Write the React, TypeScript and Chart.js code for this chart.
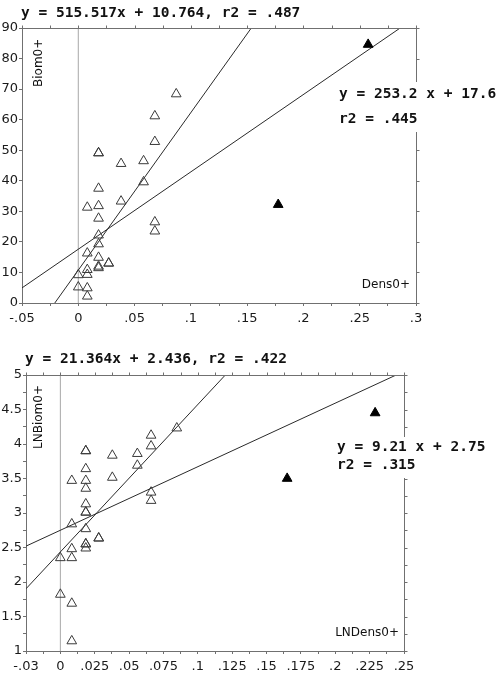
import React, { useEffect, useRef } from "react";
import { Chart, registerables } from "chart.js";

Chart.register(...registerables);

// ---------- Top panel data (Dens0+ vs Biom0+) ----------
const topDens = [
  0.087, 0.068, 0.068, 0.018, 0.018, 0.038, 0.058, 0.058, 0.018, 0.008, 0.018,
  0.038, 0.018, 0.068, 0.068, 0.018, 0.018, 0.008, 0.018, 0.018, 0.018, 0.027,
  0.027, 0.0, 0.008, 0.008, 0.0, 0.008, 0.008,
];
const topBiom = [
  68.4, 61.2, 52.8, 49.1, 49.1, 45.6, 46.5, 39.6, 37.5, 31.3, 31.8,
  33.3, 27.7, 26.5, 23.5, 22.2, 19.3, 16.3, 14.9, 12.0, 11.5, 13.0,
  13.0, 9.2, 10.9, 9.3, 5.2, 4.9, 2.2,
];
const topDensFilled = [0.2575, 0.1776];
const topBiomFilled = [84.6, 32.2];
const topSlopes = [515.517, 253.2];
const topIntercepts = [10.764, 17.6];
const topXLabels = ["-.05", "0", ".05", ".1", ".15", ".2", ".25", ".3"];
const topYLabels = ["0", "10", "20", "30", "40", "50", "60", "70", "80", "90"];
const topTitle = "y = 515.517x + 10.764, r2 = .487";
const topFit2a = "y = 253.2 x + 17.6";
const topFit2b = "r2 = .445";
const topXName = "Dens0+";
const topYName = "Biom0+";

// ---------- Bottom panel data (LNDens0+ vs LNBiom0+) ----------
const botDens = [
  0.0847, 0.066, 0.066, 0.0185, 0.0185, 0.0378, 0.056, 0.056, 0.0185, 0.0083,
  0.0185, 0.0378, 0.0185, 0.066, 0.066, 0.0185, 0.0185, 0.0185, 0.0083, 0.0185,
  0.0279, 0.0279, 0.0185, 0.0185, 0.0185, 0.0083, 0.0, 0.0083, 0.0, 0.0083, 0.0083,
];
const botBiom = [
  4.23, 4.125, 3.97, 3.9, 3.9, 3.835, 3.86, 3.69, 3.64, 3.47,
  3.47, 3.515, 3.356, 3.3, 3.18, 3.13, 3.01, 3.01, 2.84, 2.77,
  2.635, 2.635, 2.55, 2.55, 2.49, 2.48, 2.35, 2.35, 1.82, 1.69, 1.145,
];
const botDensFilled = [0.229, 0.165];
const botBiomFilled = [4.45, 3.5];
const botSlopes = [21.364, 9.21];
const botIntercepts = [2.436, 2.75];
const botXLabels = [
  "-.03", "0", ".025", ".05", ".075", ".1", ".125", ".15", ".175", ".2", ".225", ".25",
];
const botYLabels = ["1", "1.5", "2", "2.5", "3", "3.5", "4", "4.5", "5"];
const botTitle = "y = 21.364x + 2.436, r2 = .422";
const botFit2a = "y = 9.21 x + 2.75";
const botFit2b = "r2 = .315";
const botXName = "LNDens0+";
const botYName = "LNBiom0+";

const AXIS_COLOR = "#707070";
const TICK_FONT = { family: "DejaVu Sans", size: 13 };
const MONO_BOLD = "bold 14.5px 'DejaVu Sans Mono'";
const NAME_FONT = "12px 'DejaVu Sans'";

type TextItem = {
  text: string;
  x: number;
  y: number;
  font: string;
  align?: CanvasTextAlign;
  rotate?: boolean;
};

type PanelSpec = {
  canvasHeight: number;
  xMin: number;
  xMax: number;
  xStep: number;
  xLabelEvery: number;
  xLabels: string[];
  yMin: number;
  yMax: number;
  yStep: number;
  yLabelEvery: number;
  yLabels: string[];
  dens: number[];
  biom: number[];
  densF: number[];
  biomF: number[];
  slopes: number[];
  intercepts: number[];
  leftWidth: number;
  bottomHeight: number;
  padTop: number;
  padRight: number;
  texts: TextItem[];
  box: { x: number; y: number; w: number; h: number };
};

function makeAxis(
  pos: string,
  min: number,
  max: number,
  step: number,
  labelEvery: number,
  labels: string[],
  size: number
) {
  const horizontal = pos === "top" || pos === "bottom";
  return {
    type: "linear",
    position: pos,
    min,
    max,
    ticks: {
      stepSize: step,
      autoSkip: false,
      maxRotation: 0,
      minRotation: 0,
      color: "#1a1a1a",
      font: TICK_FONT,
      padding: horizontal ? 5 : 1,
      callback: (_v: any, i: number) =>
        i % labelEvery === 0 ? labels[i / labelEvery] ?? "" : "",
    },
    grid: {
      drawOnChartArea: false,
      drawTicks: true,
      tickLength: 3,
      color: AXIS_COLOR,
      tickColor: AXIS_COLOR,
      lineWidth: 1,
    },
    border: { display: true, color: AXIS_COLOR, width: 1 },
    afterFit: (s: any) => {
      if (horizontal) s.height = size;
      else s.width = size;
    },
  };
}

function buildChart(canvas: HTMLCanvasElement, p: PanelSpec) {
  const openPts = p.dens.map((d, i) => ({ x: d, y: p.biom[i] }));
  const filledPts = p.densF.map((d, i) => ({ x: d, y: p.biomF[i] }));
  const fitLines = p.slopes.map((s, k) => ({
    data: [p.xMin, p.xMax].map((x) => ({ x, y: s * x + p.intercepts[k] })),
    showLine: true,
    borderColor: "#2a2a2a",
    borderWidth: 1,
    pointRadius: 0,
    order: 5,
  }));

  // mirrored frame (top and right axes) with outward ticks, from the chart's own scales
  const framePlugin = {
    id: "mirrorFrame",
    afterDraw(chart: any) {
      const ctx = chart.ctx as CanvasRenderingContext2D;
      const { top, right, left, bottom } = chart.chartArea;
      const xs = chart.scales.x;
      const ys = chart.scales.y;
      ctx.save();
      ctx.strokeStyle = AXIS_COLOR;
      ctx.lineWidth = 1;
      ctx.beginPath();
      const t = Math.round(top) + 0.5;
      const r = Math.round(right) + 0.5;
      ctx.moveTo(left, t);
      ctx.lineTo(r, t);
      ctx.moveTo(r, top);
      ctx.lineTo(r, bottom);
      for (const tk of xs.ticks) {
        const px = Math.round(xs.getPixelForValue(tk.value)) + 0.5;
        ctx.moveTo(px, t);
        ctx.lineTo(px, t - 3);
      }
      for (const tk of ys.ticks) {
        const py = Math.round(ys.getPixelForValue(tk.value)) + 0.5;
        ctx.moveTo(r, py);
        ctx.lineTo(r + 3, py);
      }
      ctx.stroke();
      ctx.restore();
    },
  };

  const textPlugin = {
    id: "panelTexts",
    afterDraw(chart: any) {
      const ctx = chart.ctx as CanvasRenderingContext2D;
      ctx.save();
      ctx.fillStyle = "#ffffff";
      ctx.fillRect(p.box.x, p.box.y, p.box.w, p.box.h);
      for (const t of p.texts) {
        ctx.save();
        ctx.font = t.font;
        ctx.fillStyle = "#111111";
        ctx.textBaseline = "alphabetic";
        ctx.textAlign = t.align ?? "left";
        if (t.rotate) {
          ctx.translate(t.x, t.y);
          ctx.rotate(-Math.PI / 2);
          ctx.fillText(t.text, 0, 0);
        } else {
          ctx.fillText(t.text, t.x, t.y);
        }
        ctx.restore();
      }
      ctx.restore();
    },
  };

  return new Chart(canvas, {
    type: "scatter",
    data: {
      datasets: [
        {
          data: openPts,
          pointStyle: "triangle",
          pointRadius: 5.6,
          borderColor: "#3a3a3a",
          backgroundColor: "rgba(0,0,0,0)",
          borderWidth: 1,
          order: 1,
        },
        {
          data: filledPts,
          pointStyle: "triangle",
          pointRadius: 5.6,
          borderColor: "#000000",
          backgroundColor: "#000000",
          borderWidth: 1,
          order: 0,
        },
        ...fitLines,
        {
          data: [
            { x: 0, y: p.yMin },
            { x: 0, y: p.yMax },
          ],
          showLine: true,
          borderColor: "#a8a8a8",
          borderWidth: 1,
          pointRadius: 0,
          order: 10,
        },
      ] as any,
    },
    options: {
      responsive: false,
      devicePixelRatio: 1,
      animation: false,
      events: [],
      layout: { padding: { top: p.padTop, right: p.padRight, left: 0, bottom: 0 } },
      plugins: { legend: { display: false }, tooltip: { enabled: false }, title: { display: false } },
      scales: {
        x: makeAxis("bottom", p.xMin, p.xMax, p.xStep, p.xLabelEvery, p.xLabels, p.bottomHeight),
        y: makeAxis("left", p.yMin, p.yMax, p.yStep, p.yLabelEvery, p.yLabels, p.leftWidth),
      } as any,
    },
    plugins: [framePlugin, textPlugin],
  } as any);
}

const topSpec: PanelSpec = {
  canvasHeight: 340,
  xMin: -0.05,
  xMax: 0.3,
  xStep: 0.025,
  xLabelEvery: 2,
  xLabels: topXLabels,
  yMin: 0,
  yMax: 90,
  yStep: 10,
  yLabelEvery: 1,
  yLabels: topYLabels,
  dens: topDens,
  biom: topBiom,
  densF: topDensFilled,
  biomF: topBiomFilled,
  slopes: topSlopes,
  intercepts: topIntercepts,
  leftWidth: 22,
  bottomHeight: 37,
  padTop: 28,
  padRight: 80,
  box: { x: 336, y: 82, w: 160, h: 50 },
  texts: [
    { text: topTitle, x: 21, y: 17, font: MONO_BOLD },
    { text: topFit2a, x: 339, y: 98, font: MONO_BOLD },
    { text: topFit2b, x: 339, y: 123, font: MONO_BOLD },
    { text: topXName, x: 410, y: 288, font: NAME_FONT, align: "right" },
    { text: topYName, x: 41.5, y: 87, font: NAME_FONT, rotate: true },
  ],
};

const botSpec: PanelSpec = {
  canvasHeight: 342,
  xMin: -0.025,
  xMax: 0.25,
  xStep: 0.0125,
  xLabelEvery: 2,
  xLabels: botXLabels,
  yMin: 1,
  yMax: 5,
  yStep: 0.25,
  yLabelEvery: 2,
  yLabels: botYLabels,
  dens: botDens,
  biom: botBiom,
  densF: botDensFilled,
  biomF: botBiomFilled,
  slopes: botSlopes,
  intercepts: botIntercepts,
  leftWidth: 26,
  bottomHeight: 31,
  padTop: 35,
  padRight: 92,
  box: { x: 334, y: 97, w: 162, h: 41 },
  texts: [
    { text: botTitle, x: 25, y: 23, font: MONO_BOLD },
    { text: botFit2a, x: 337, y: 110.5, font: MONO_BOLD },
    { text: botFit2b, x: 337, y: 129, font: MONO_BOLD },
    { text: botXName, x: 399, y: 296, font: NAME_FONT, align: "right" },
    { text: botYName, x: 41.5, y: 109, font: NAME_FONT, rotate: true },
  ],
};

function Panel({ spec, top }: { spec: PanelSpec; top: number }) {
  const ref = useRef<HTMLCanvasElement | null>(null);
  useEffect(() => {
    if (!ref.current) return;
    const chart = buildChart(ref.current, spec);
    return () => chart.destroy();
  }, [spec]);
  return (
    <canvas
      ref={ref}
      width={496}
      height={spec.canvasHeight}
      style={{ position: "absolute", left: 0, top, width: 496, height: spec.canvasHeight, display: "block" }}
    />
  );
}

export default function App() {
  return (
    <div style={{ position: "absolute", left: 0, top: 0, width: 496, height: 682, background: "#ffffff" }}>
      <Panel spec={topSpec} top={0} />
      <Panel spec={botSpec} top={340} />
    </div>
  );
}
